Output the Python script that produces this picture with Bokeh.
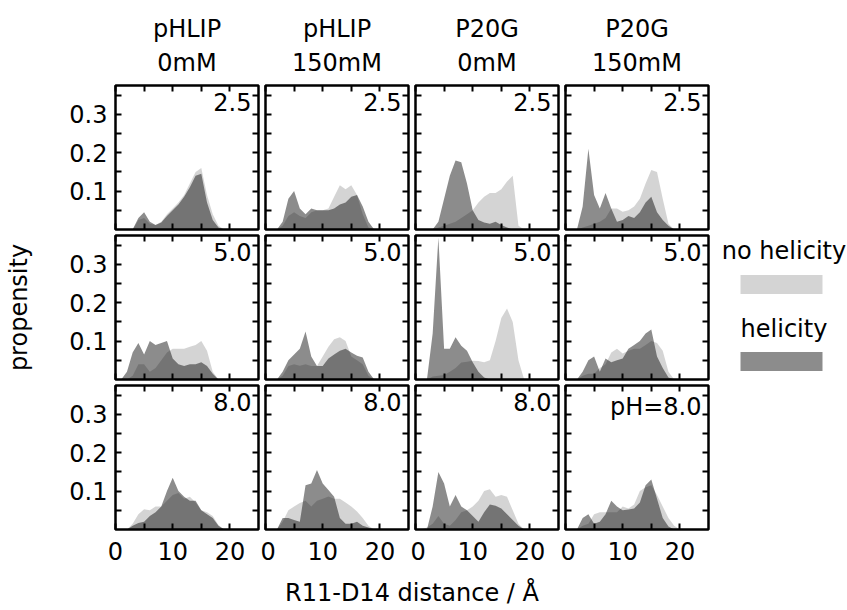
from bokeh.plotting import figure
from bokeh.layouts import column, row
from bokeh.models import Range1d, LinearAxis, FixedTicker, Label, ColumnDataSource
from bokeh.embed import file_html
from bokeh.resources import INLINE
from bokeh.core.properties import value

# ---------------- data ----------------
distance = list(range(21))  # R11-D14 distance / Å

col_line1 = ["pHLIP", "pHLIP", "P20G", "P20G"]
col_line2 = ["0mM", "150mM", "0mM", "150mM"]
row_tags = [["2.5", "2.5", "2.5", "2.5"],
            ["5.0", "5.0", "5.0", "5.0"],
            ["8.0", "8.0", "8.0", "pH=8.0"]]

x_tick_labels = [0, 10, 20]
x_minor = [5, 15]
y_tick_labels = [0.1, 0.2, 0.3]
y_minor = [0.05, 0.15, 0.25, 0.35]

# pH 2.5
nh_phlip0_25 = [0, 0, 0, 0, 0.025, 0.03, 0.015, 0.012, 0.02, 0.04, 0.055, 0.07, 0.09, 0.12, 0.15, 0.16, 0.09, 0.04, 0.01, 0, 0]
h_phlip0_25 = [0, 0, 0, 0, 0.03, 0.045, 0.02, 0.012, 0.018, 0.035, 0.05, 0.065, 0.085, 0.11, 0.14, 0.145, 0.07, 0.025, 0.005, 0, 0]
nh_phlip150_25 = [0, 0, 0, 0.01, 0.035, 0.045, 0.035, 0.03, 0.045, 0.05, 0.05, 0.055, 0.085, 0.115, 0.105, 0.115, 0.09, 0.04, 0.005, 0, 0]
h_phlip150_25 = [0, 0, 0, 0.02, 0.08, 0.1, 0.055, 0.04, 0.055, 0.05, 0.05, 0.05, 0.055, 0.065, 0.07, 0.085, 0.09, 0.06, 0.02, 0, 0]
nh_p20g0_25 = [0, 0, 0, 0, 0.005, 0.01, 0.015, 0.02, 0.03, 0.04, 0.05, 0.07, 0.085, 0.095, 0.095, 0.105, 0.125, 0.14, 0.01, 0, 0]
h_p20g0_25 = [0, 0, 0, 0, 0.02, 0.08, 0.14, 0.18, 0.175, 0.12, 0.05, 0.025, 0.018, 0.015, 0.02, 0.012, 0.005, 0, 0, 0, 0]
nh_p20g150_25 = [0, 0, 0, 0.005, 0.01, 0.015, 0.02, 0.03, 0.055, 0.055, 0.046, 0.05, 0.06, 0.08, 0.12, 0.155, 0.15, 0.08, 0.015, 0, 0]
h_p20g150_25 = [0, 0, 0, 0.06, 0.21, 0.09, 0.055, 0.095, 0.055, 0.02, 0.025, 0.035, 0.03, 0.045, 0.07, 0.085, 0.045, 0.025, 0.01, 0, 0]

# pH 5.0
nh_phlip0_50 = [0, 0, 0, 0.01, 0.04, 0.04, 0.02, 0.03, 0.05, 0.07, 0.08, 0.08, 0.08, 0.085, 0.09, 0.1, 0.075, 0.02, 0, 0, 0]
h_phlip0_50 = [0, 0, 0.02, 0.07, 0.095, 0.065, 0.1, 0.09, 0.095, 0.1, 0.055, 0.04, 0.035, 0.04, 0.04, 0.045, 0.035, 0.015, 0, 0, 0]
nh_phlip150_50 = [0, 0, 0, 0.01, 0.035, 0.04, 0.036, 0.04, 0.035, 0.035, 0.06, 0.085, 0.105, 0.11, 0.1, 0.06, 0.05, 0.04, 0.01, 0, 0]
h_phlip150_50 = [0, 0, 0, 0.02, 0.05, 0.065, 0.08, 0.125, 0.06, 0.035, 0.035, 0.055, 0.065, 0.075, 0.08, 0.07, 0.062, 0.057, 0.02, 0, 0]
nh_p20g0_50 = [0, 0, 0, 0.008, 0.01, 0.012, 0.02, 0.03, 0.044, 0.046, 0.049, 0.048, 0.045, 0.05, 0.1, 0.16, 0.185, 0.15, 0.05, 0, 0]
h_p20g0_50 = [0, 0, 0, 0.12, 0.37, 0.08, 0.08, 0.11, 0.088, 0.075, 0.045, 0.02, 0.005, 0, 0, 0, 0, 0, 0, 0, 0]
nh_p20g150_50 = [0, 0, 0, 0.01, 0.015, 0.015, 0.03, 0.04, 0.07, 0.08, 0.068, 0.075, 0.08, 0.08, 0.09, 0.1, 0.095, 0.075, 0.02, 0, 0]
h_p20g150_50 = [0, 0, 0, 0.02, 0.05, 0.06, 0.02, 0.055, 0.045, 0.05, 0.055, 0.08, 0.09, 0.1, 0.12, 0.13, 0.06, 0.03, 0.005, 0, 0]

# pH 8.0
nh_phlip0_80 = [0, 0, 0, 0.015, 0.04, 0.053, 0.05, 0.06, 0.06, 0.075, 0.09, 0.095, 0.08, 0.085, 0.07, 0.05, 0.045, 0.035, 0.012, 0, 0]
h_phlip0_80 = [0, 0, 0, 0.01, 0.017, 0.02, 0.035, 0.045, 0.06, 0.1, 0.135, 0.1, 0.085, 0.075, 0.075, 0.05, 0.04, 0.03, 0.01, 0, 0]
nh_phlip150_80 = [0, 0, 0, 0.02, 0.05, 0.06, 0.069, 0.075, 0.06, 0.075, 0.08, 0.086, 0.08, 0.08, 0.07, 0.06, 0.047, 0.03, 0.01, 0, 0]
h_phlip150_80 = [0, 0, 0, 0.03, 0.03, 0.025, 0.02, 0.115, 0.12, 0.155, 0.12, 0.103, 0.085, 0.03, 0.015, 0.015, 0.02, 0.01, 0.005, 0, 0]
nh_p20g0_80 = [0, 0, 0.005, 0.015, 0.035, 0.015, 0.01, 0.025, 0.045, 0.05, 0.06, 0.075, 0.1, 0.105, 0.085, 0.09, 0.085, 0.05, 0.015, 0, 0]
h_p20g0_80 = [0, 0, 0, 0.06, 0.15, 0.12, 0.06, 0.09, 0.06, 0.05, 0.035, 0.02, 0.045, 0.065, 0.062, 0.055, 0.04, 0.025, 0.01, 0, 0]
nh_p20g150_80 = [0, 0, 0, 0.01, 0.015, 0.04, 0.045, 0.045, 0.045, 0.045, 0.06, 0.055, 0.065, 0.1, 0.11, 0.115, 0.09, 0.06, 0.03, 0.01, 0]
h_p20g150_80 = [0, 0, 0, 0.03, 0.04, 0.015, 0.02, 0.04, 0.075, 0.06, 0.05, 0.052, 0.055, 0.07, 0.115, 0.13, 0.08, 0.03, 0.008, 0, 0]

grid_nh = [[nh_phlip0_25, nh_phlip150_25, nh_p20g0_25, nh_p20g150_25],
           [nh_phlip0_50, nh_phlip150_50, nh_p20g0_50, nh_p20g150_50],
           [nh_phlip0_80, nh_phlip150_80, nh_p20g0_80, nh_p20g150_80]]
grid_h = [[h_phlip0_25, h_phlip150_25, h_p20g0_25, h_p20g150_25],
          [h_phlip0_50, h_phlip150_50, h_p20g0_50, h_p20g150_50],
          [h_phlip0_80, h_phlip150_80, h_p20g0_80, h_p20g150_80]]

# ---------------- style / layout ----------------
FONT = "DejaVu Sans"
FS = "24px"
NH_ALPHA = 0.17
H_ALPHA = 0.45
XMAX = 25
YMAX = 0.375
FW, FH = 143, 144          # frame size of each panel
LEFT0, LEFT, RIGHT, TOP, BOT, BOT_LAST = 115, 5, 2, 4, 2, 44
HEADER_H = 81
XLAB_H = 37
TOTAL_W = 847


def styled_axis(ticks, minors, show_labels, standoff=0):
    ax = LinearAxis(ticker=FixedTicker(ticks=ticks, minor_ticks=minors))
    ax.axis_line_color = None
    ax.major_tick_in = 6
    ax.major_tick_out = 0
    ax.minor_tick_in = 6
    ax.minor_tick_out = 0
    ax.major_tick_line_width = 2
    ax.minor_tick_line_width = 2
    ax.major_tick_line_color = "black"
    ax.minor_tick_line_color = "black"
    ax.axis_label_standoff = 0
    if show_labels:
        ax.major_label_text_font = FONT
        ax.major_label_text_font_size = FS
        ax.major_label_text_color = "black"
        ax.major_label_standoff = standoff
    else:
        ax.major_label_text_font_size = "0px"
        ax.major_label_text_color = None
        ax.major_label_standoff = 0
    return ax


def make_panel(r, c):
    left = LEFT0 if c == 0 else LEFT
    bottom = BOT_LAST if r == 2 else BOT
    p = figure(width=left + FW + RIGHT, height=TOP + FH + bottom,
               x_range=Range1d(0, XMAX), y_range=Range1d(0, YMAX),
               x_axis_type=None, y_axis_type=None,
               toolbar_location=None, output_backend="svg",
               min_border_left=left, min_border_right=RIGHT,
               min_border_top=TOP, min_border_bottom=bottom)
    p.outline_line_color = "black"
    p.outline_line_width = 2.5
    p.background_fill_color = "white"
    p.border_fill_color = "white"

    src = ColumnDataSource(dict(x=distance, nh=grid_nh[r][c], h=grid_h[r][c]))
    p.varea(x="x", y1=0, y2="nh", source=src, fill_color="black", fill_alpha=NH_ALPHA)
    p.varea(x="x", y1=0, y2="h", source=src, fill_color="black", fill_alpha=H_ALPHA)

    # axes on all four sides, ticks pointing inwards
    p.add_layout(styled_axis(x_tick_labels, x_minor, r == 2, standoff=12), "below")
    p.add_layout(styled_axis(x_tick_labels, x_minor, False), "above")
    yax = styled_axis(y_tick_labels, y_minor, c == 0, standoff=8)
    if c == 0 and r == 1:
        yax.axis_label = "propensity"
        yax.axis_label_text_font = FONT
        yax.axis_label_text_font_size = FS
        yax.axis_label_text_font_style = "normal"
        yax.axis_label_text_color = "black"
        yax.axis_label_standoff = 33
    p.add_layout(yax, "left")
    p.add_layout(styled_axis(y_tick_labels, y_minor, False), "right")

    p.add_layout(Label(x=XMAX - 7 * XMAX / FW, y=YMAX - 7 * YMAX / FH,
                       text=row_tags[r][c], text_align="right", text_baseline="top",
                       text_font=FONT, text_font_size=FS, text_color="black"))
    return p


def blank_fig(w, h):
    f = figure(width=w, height=h, x_range=Range1d(0, w), y_range=Range1d(h, 0),
               x_axis_type=None, y_axis_type=None, toolbar_location=None,
               output_backend="svg", min_border=0)
    f.outline_line_color = None
    f.background_fill_color = "white"
    f.border_fill_color = "white"
    return f


panels = [[make_panel(r, c) for c in range(4)] for r in range(3)]

# column headers
col_centers = [LEFT0 + FW / 2 + c * (FW + LEFT + RIGHT) for c in range(4)]
header = blank_fig(TOTAL_W, HEADER_H)
header.text(x=col_centers, y=[28] * 4, text=col_line1, text_align="center",
            text_baseline="middle", text_font=value(FONT), text_font_size=value(FS), text_color="black")
header.text(x=col_centers, y=[62] * 4, text=col_line2, text_align="center",
            text_baseline="middle", text_font=value(FONT), text_font_size=value(FS), text_color="black")

# legend
grid_h_px = 2 * (TOP + FH + BOT) + (TOP + FH + BOT_LAST)
grid_w_px = LEFT0 + FW + RIGHT + 3 * (LEFT + FW + RIGHT)
leg_w = TOTAL_W - grid_w_px
legend = blank_fig(leg_w, grid_h_px)
legend.text(x=[73.5, 73.5], y=[169, 247], text=["no helicity", "helicity"], text_align="center",
            text_baseline="middle", text_font=value(FONT), text_font_size=value(FS), text_color="black")
legend.rect(x=[71], y=[203], width=82, height=19, fill_color="black", fill_alpha=NH_ALPHA, line_color=None)
legend.rect(x=[71], y=[280], width=82, height=19, fill_color="black", fill_alpha=H_ALPHA, line_color=None)

# x-axis label
xlab = blank_fig(TOTAL_W, XLAB_H)
xlab.text(x=[(col_centers[1] + col_centers[2]) / 2], y=[19], text=["R11-D14 distance / Å"],
          text_align="center", text_baseline="middle", text_font=value(FONT),
          text_font_size=value(FS), text_color="black")

grid = column(*[row(*panels[r]) for r in range(3)])
layout = column(header, row(grid, legend), xlab)

open("out.html", "w").write(file_html(layout, INLINE))
